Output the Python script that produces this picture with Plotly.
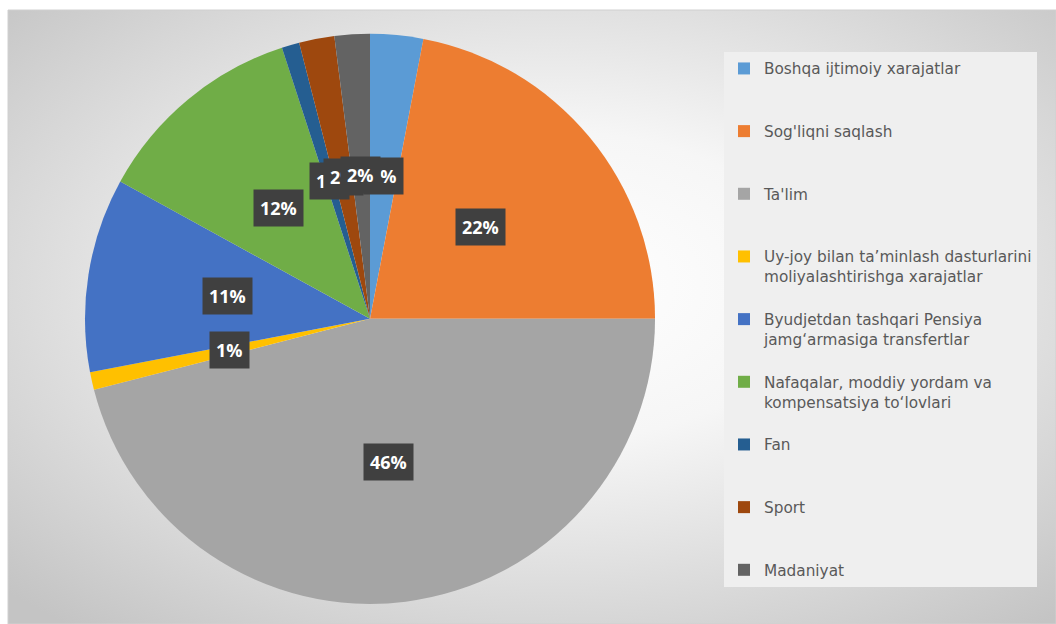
import base64
import math
import plotly.graph_objects as go

# ---- data ----
categories = [
    "Boshqa ijtimoiy xarajatlar",
    "Sog'liqni saqlash",
    "Ta'lim",
    "Uy-joy bilan ta\u2019minlash dasturlarini<br>moliyalashtirishga xarajatlar",
    "Byudjetdan tashqari Pensiya<br>jamg\u2018armasiga transfertlar",
    "Nafaqalar, moddiy yordam va<br>kompensatsiya to\u2018lovlari",
    "Fan",
    "Sport",
    "Madaniyat",
]
values = [3, 22, 46, 1, 11, 12, 1, 2, 2]
colors = ["#5B9BD5", "#ED7D31", "#A5A5A5", "#FFC000", "#4472C4",
          "#70AD47", "#255E91", "#9E480E", "#636363"]

W, H = 1056, 624
dom_x = [0.0805, 0.6203]
dom_y = [0.032, 0.946]

# pad legend labels so each entry takes three lines (last entry left as is)
NB = "\u00a0"
legend_labels = []
for i, c in enumerate(categories):
    n = c.count("<br>") + 1
    pad = 0 if i == len(categories) - 1 else 3 - n
    legend_labels.append(c + ("<br>" + NB) * pad)

fig = go.Figure(go.Pie(
    labels=legend_labels,
    values=values,
    marker=dict(colors=colors, line=dict(width=0)),
    sort=False,
    direction="clockwise",
    rotation=0,
    textinfo="none",
    hoverinfo="label+percent",
    domain=dict(x=dom_x, y=dom_y),
))

# data labels (dark boxes) placed from the slice angles
total = sum(values)
cx = (dom_x[0] + dom_x[1]) / 2 * W
cy = (1 - (dom_y[0] + dom_y[1]) / 2) * H
R = min((dom_x[1] - dom_x[0]) * W, (dom_y[1] - dom_y[0]) * H) / 2
cum = 0
annotations = []
for v in values:
    mid = (cum + v / 2) / total * 2 * math.pi
    cum += v
    px = cx + 0.505 * R * math.sin(mid)
    py = cy - 0.505 * R * math.cos(mid)
    annotations.append(dict(
        x=px / W, y=1 - py / H, xref="paper", yref="paper",
        xanchor="center", yanchor="middle",
        text="<b>%d%%</b>" % round(v / total * 100),
        showarrow=False, bgcolor="#404040", borderpad=6,
        font=dict(color="white", size=18, family="Open Sans"),
    ))

# radial gradient background
svg = ('<svg xmlns="http://www.w3.org/2000/svg" width="1048" height="614" '
       'preserveAspectRatio="none">'
       '<defs><radialGradient id="g" cx="52%" cy="45%" r="72%">'
       '<stop offset="0" stop-color="#ffffff"/>'
       '<stop offset="0.35" stop-color="#f6f6f6"/>'
       '<stop offset="1" stop-color="#c4c4c4"/>'
       '</radialGradient></defs>'
       '<rect width="1048" height="614" fill="url(#g)"/></svg>')
src = "data:image/svg+xml;base64," + base64.b64encode(svg.encode()).decode()

fig.update_layout(
    width=W, height=H,
    margin=dict(l=0, r=0, t=0, b=0),
    paper_bgcolor="white",
    images=[dict(source=src, xref="paper", yref="paper",
                 x=8 / W, y=1 - 10 / H, sizex=1 - 8 / W, sizey=1 - 10 / H,
                 xanchor="left", yanchor="top", sizing="stretch", layer="below")],
    shapes=[dict(type="rect", xref="paper", yref="paper",
                 x0=8 / W, x1=1, y0=0, y1=1 - 10 / H,
                 line=dict(color="#d0d0d0", width=1), layer="below")],
    annotations=annotations,
    showlegend=True,
    legend=dict(
        x=724 / W, y=1 - 52 / H, xanchor="left", yanchor="top",
        bgcolor="#efefef", borderwidth=0,
        valign="top",
        font=dict(family="DejaVu Sans", size=15.3, color="#595959"),
    ),
)

fig.write_html("out.html",
               config={"displayModeBar": False},
               post_script="document.body.style.margin='0';document.body.style.padding='0';")
